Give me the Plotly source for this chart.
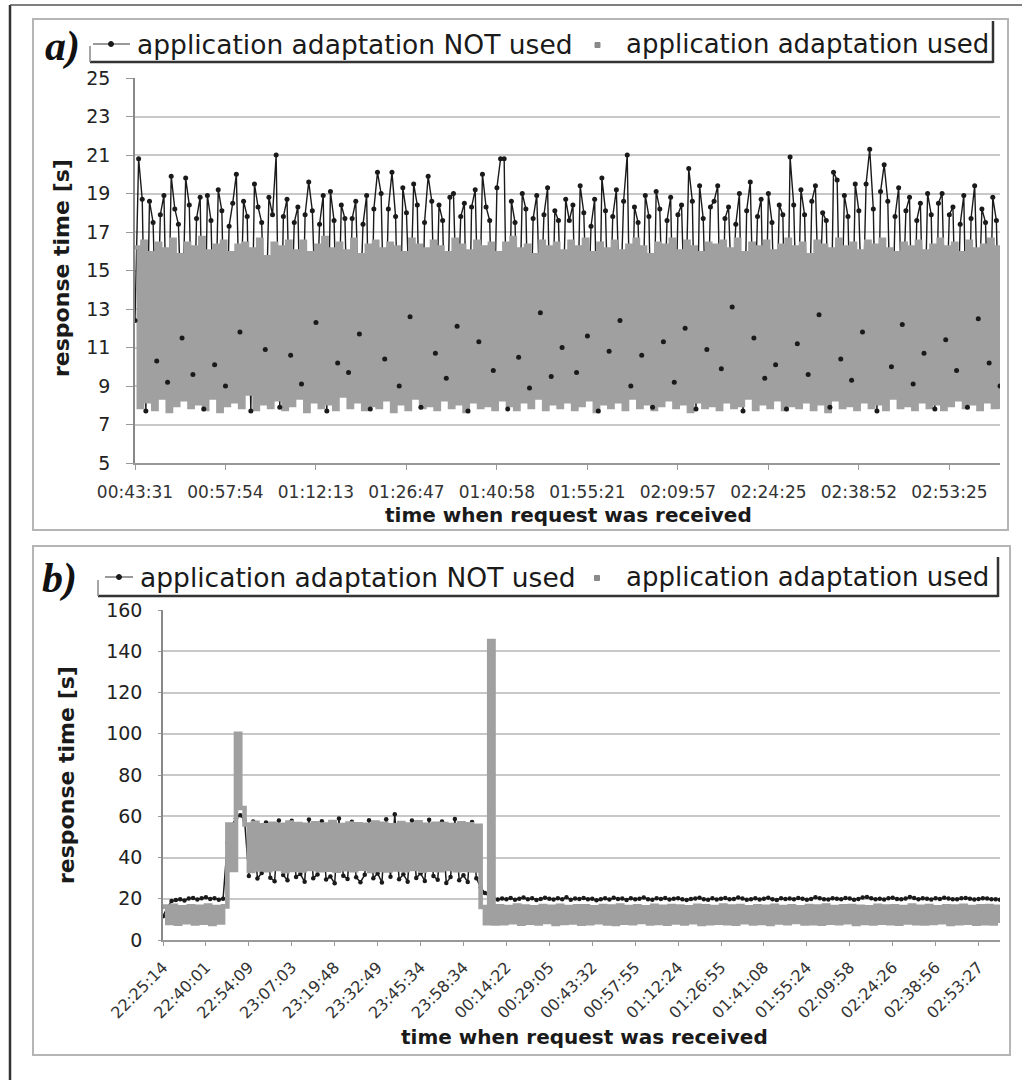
import plotly.graph_objects as go

# ---------------- data ----------------
labels_a = ["00:43:31", "00:57:54", "01:12:13", "01:26:47", "01:40:58",
            "01:55:21", "02:09:57", "02:24:25", "02:38:52", "02:53:25"]

labels_b = ["22:25:14", "22:40:01", "22:54:09", "23:07:03", "23:19:48",
            "23:32:49", "23:45:34", "23:58:34", "00:14:22", "00:29:05",
            "00:43:32", "00:57:55", "01:12:24", "01:26:55", "01:41:08",
            "01:55:24", "02:09:58", "02:24:26", "02:38:56", "02:53:27"]

# panel a: response time [s], application adaptation used (grey)
used_a = [
    16.2, 7.9, 16.5, 8.2, 15.9, 7.8, 16.4, 8.4, 16.1, 7.7, 16.6, 8.0, 15.8, 8.3, 16.4, 7.9, 16.2, 8.1, 16.7, 7.8,
    16.0, 8.4, 16.3, 7.7, 16.5, 8.0, 15.9, 8.2, 16.3, 7.9, 16.4, 8.6, 16.1, 7.8, 16.6, 8.1, 15.7, 7.9, 16.4, 8.3,
    16.2, 7.8, 16.5, 8.0, 16.0, 8.4, 16.5, 7.7, 15.9, 8.2, 16.3, 7.9, 16.7, 8.1, 16.1, 7.8, 16.4, 8.5, 16.0, 7.9,
    16.6, 8.2, 15.8, 7.8, 16.3, 8.0, 16.5, 7.9, 16.1, 8.3, 16.4, 7.7, 16.2, 8.1, 15.9, 7.8, 16.6, 8.4, 16.3, 7.9,
    16.1, 8.0, 16.5, 7.8, 16.2, 8.3, 15.9, 7.9, 16.6, 8.1, 16.3, 7.7, 16.0, 8.2, 16.5, 7.9, 16.2, 8.0, 16.4, 7.8,
    15.9, 8.3, 16.4, 8.0, 16.7, 7.8, 16.1, 8.2, 16.3, 7.9, 15.8, 8.4, 16.5, 7.8, 16.2, 8.1, 16.4, 7.9, 16.0, 8.2,
    16.5, 7.8, 16.2, 8.0, 16.6, 8.3, 15.9, 7.7, 16.4, 8.1, 16.1, 7.9, 16.5, 8.2, 16.0, 7.8, 16.3, 8.4, 16.6, 7.9,
    16.2, 8.1, 15.8, 7.8, 16.4, 8.0, 16.3, 8.3, 16.6, 7.9, 16.0, 8.1, 16.5, 7.7, 16.2, 8.2, 15.9, 7.9, 16.4, 8.0,
    16.3, 7.8, 16.5, 8.2, 16.1, 7.9, 16.6, 8.0, 15.9, 8.4, 16.4, 7.8, 16.2, 8.1, 16.5, 7.9, 16.0, 8.3, 16.3, 7.8,
    16.6, 8.0, 16.2, 7.9, 16.4, 8.2, 15.8, 7.8, 16.5, 8.1, 16.3, 7.7, 16.1, 8.3, 16.6, 7.9, 16.2, 8.0, 16.4, 7.8,
    16.0, 8.2, 16.5, 7.9, 16.3, 8.1, 16.6, 7.8, 16.1, 8.4, 15.9, 7.9, 16.4, 8.0, 16.2, 7.8, 16.5, 8.2, 16.0, 7.9,
    16.3, 8.1, 16.6, 7.8, 16.2, 8.0, 16.4, 8.3, 15.9, 7.9, 16.5, 8.1, 16.1, 7.8, 16.3, 8.2, 16.6, 7.9, 16.2, 7.8,
]

# panel a: application adaptation NOT used (black)
not_used_a = [
    12.4, 20.8, 18.7, 7.7, 18.6, 17.5, 10.3, 17.9, 18.9, 9.2, 19.9, 18.2, 17.4, 11.5, 19.8, 18.4, 9.6, 17.7, 18.8, 7.8,
    18.9, 17.6, 10.1, 19.2, 18.1, 9.0, 17.3, 18.5, 20.0, 11.8, 18.6, 17.8, 7.7, 19.5, 18.3, 17.5, 10.9, 18.8, 17.9, 21.0,
    7.9, 17.8, 18.7, 10.6, 17.5, 18.3, 9.1, 17.9, 19.6, 18.1, 12.3, 17.4, 18.9, 7.7, 19.1, 17.6, 10.2, 18.4, 17.7, 9.7,
    17.7, 18.6, 11.7, 17.4, 18.9, 7.8, 18.2, 20.1, 19.0, 10.4, 18.2, 20.1, 17.8, 9.0, 19.3, 18.0, 12.6, 19.5, 18.4, 7.9,
    17.5, 19.9, 18.6, 10.7, 18.4, 17.6, 9.4, 18.8, 19.0, 12.1, 17.8, 18.5, 7.7, 18.3, 19.2, 11.3, 20.0, 18.3, 17.6, 9.8,
    19.3, 20.8, 20.8, 7.8, 18.6, 17.5, 10.5, 19.0, 18.2, 8.9, 17.7, 18.9, 12.8, 17.9, 19.3, 9.5, 18.1, 17.6, 11.0, 18.7,
    17.6, 18.4, 9.7, 19.4, 18.0, 11.6, 17.3, 18.7, 7.7, 19.8, 18.1, 10.8, 17.8, 19.2, 12.4, 18.6, 21.0, 9.0, 18.3, 17.5,
    10.6, 18.9, 17.8, 7.9, 19.1, 18.2, 11.3, 17.6, 18.8, 9.2, 17.9, 18.4, 12.0, 20.3, 18.6, 7.8, 19.4, 17.7, 10.9, 18.3,
    18.6, 19.4, 9.9, 17.7, 18.3, 13.1, 17.4, 19.0, 7.7, 18.1, 19.6, 11.5, 17.8, 18.7, 9.4, 19.0, 17.5, 10.1, 18.4, 17.9,
    7.8, 20.9, 18.4, 11.2, 19.2, 17.9, 9.6, 18.6, 19.4, 12.7, 18.0, 17.6, 7.9, 20.1, 19.7, 10.4, 18.9, 17.8, 9.3, 19.5,
    18.1, 11.8, 19.5, 21.3, 18.2, 7.7, 19.1, 20.5, 18.6, 10.0, 17.8, 19.3, 12.2, 18.1, 18.8, 9.1, 17.6, 18.5, 10.7, 19.0,
    17.9, 7.8, 18.5, 19.0, 11.4, 17.9, 18.3, 9.8, 17.4, 18.9, 7.9, 17.7, 19.4, 12.5, 18.2, 17.5, 10.2, 18.8, 17.6, 9.0,
]

# panel b: application adaptation used (grey)
used_b = [
    16.2, 8.3, 16.6, 7.9, 15.9, 8.6, 16.4, 8.0, 16.1, 8.4, 16.7, 7.8, 16.0, 8.5, 16.3,
    56.0, 34.0, 100.0, 64.0, 56.0, 33.5, 56.8, 34.2, 55.6, 33.8, 56.4, 34.5, 55.9, 33.4, 57.0,
    34.0, 56.2, 33.7, 55.8, 34.4, 56.6, 33.9, 56.0, 34.1, 57.2, 33.6, 55.7, 34.3, 56.5, 33.8,
    56.1, 34.6, 55.9, 33.5, 56.9, 34.0, 56.3, 33.7, 55.6, 34.2, 56.7, 33.9, 56.0, 34.4, 57.1,
    33.6, 55.8, 34.1, 56.4, 33.8, 56.2, 34.5, 55.7, 33.9, 56.6, 34.0, 56.1, 33.7, 55.4,
    16.0, 8.2, 145.0, 8.0,
    16.4, 8.1, 16.0, 8.6, 16.7, 7.9, 16.2, 8.4, 15.9, 8.0, 16.5, 8.7, 16.1, 7.8, 16.6, 8.3, 16.0, 8.5, 16.4, 7.9,
    16.3, 8.2, 15.8, 8.6, 16.5, 8.0, 16.2, 7.8, 16.7, 8.4, 16.0, 8.1, 16.4, 8.7, 15.9, 8.0, 16.6, 8.3, 16.1, 7.9,
    16.5, 8.5, 16.2, 8.0, 15.9, 8.6, 16.6, 7.8, 16.3, 8.2, 16.0, 8.4, 16.7, 8.1, 16.2, 7.9, 16.5, 8.6, 15.8, 8.0,
    16.4, 8.3, 16.1, 7.8, 16.6, 8.5, 16.0, 8.1, 16.3, 8.7, 15.9, 8.0, 16.5, 8.2, 16.2, 7.9, 16.7, 8.4, 16.0, 8.1,
    16.3, 8.6, 16.5, 7.8, 16.1, 8.3, 15.8, 8.0, 16.6, 8.4, 16.2, 8.1, 16.4, 7.9, 16.0, 8.5, 16.7, 8.2, 16.1, 8.0,
    16.5, 8.3, 15.9, 8.6, 16.4, 7.8, 16.2, 8.1, 16.6, 8.4, 16.0, 7.9, 16.3, 8.2, 16.5, 8.0, 16.1, 8.3,
]

# panel b: application adaptation NOT used (black)
not_used_b = [
    11.5, 15.8, 18.9, 19.4, 19.7, 19.2, 20.1, 20.4, 19.6, 20.2, 20.7, 19.9, 20.3, 19.5, 20.0,
    47.0, 55.5, 59.0, 60.5, 58.2, 31.0, 57.5, 29.8, 32.5, 57.0, 30.2, 28.5, 58.0, 31.5, 29.0,
    57.8, 30.6, 32.0, 28.2, 58.4, 30.0, 31.8, 57.6, 29.3, 30.8, 27.5, 58.9, 31.2, 29.6, 57.3,
    30.4, 28.0, 31.6, 58.1, 29.9, 32.3, 27.9, 58.6, 30.7, 61.0, 29.4, 31.9, 28.3, 57.9, 30.1,
    32.4, 28.6, 58.3, 31.0, 29.2, 57.5, 27.6, 30.5, 58.7, 29.0, 31.4, 28.1, 57.2, 30.0,
    25.5, 22.8, 21.0, 20.2,
    19.6, 20.1, 19.8, 20.4, 19.5, 20.0, 20.6, 19.7, 20.2, 19.4, 19.9, 20.5, 20.0, 19.6, 20.3, 19.8, 20.7, 19.5, 20.1, 19.9,
    20.4, 19.7, 20.0, 19.3, 19.8, 20.2, 19.6, 20.5, 19.9, 20.1, 19.4, 20.3, 19.7, 20.0, 20.6, 19.8, 19.5, 20.2, 19.9, 20.4,
    19.6, 20.0, 20.3, 19.7, 19.4, 19.9, 20.1, 20.5, 19.8, 19.5, 20.2, 19.6, 20.0, 20.4, 19.7, 19.9, 20.6, 20.1, 19.5, 19.8,
    20.3, 19.6, 20.0, 20.5, 19.8, 19.4, 20.2, 19.9, 20.1, 19.7, 20.4, 20.0, 19.5, 19.9, 20.7, 20.2, 19.8, 19.6, 20.3, 20.0,
    19.7, 20.4, 20.1, 19.5, 19.9, 20.6, 20.8, 20.2, 19.8, 20.0, 19.6, 20.3, 20.5, 19.9, 19.7, 20.1, 20.9, 20.4, 19.8, 20.2,
    20.0, 19.6, 20.3, 19.9, 20.5, 20.1, 19.7, 19.8, 20.2, 20.4, 20.0, 19.6, 19.9, 20.3, 20.1, 19.7, 19.8, 19.5,
]

series_names = ["application adaptation NOT used", "application adaptation used"]

# ---------------- styling ----------------
W, H = 1028, 1080
GREY = "#a0a0a0"
BLACK = "#1a1a1a"
FONT = "DejaVu Sans"


def px(x):
    return x / W


def py(y):
    return 1 - y / H


xa = list(range(len(used_a)))
xb = list(range(len(used_b)))

fig = go.Figure()

# panel a
fig.add_trace(go.Scatter(x=xa, y=not_used_a, mode="lines", name=series_names[0],
                         line=dict(color=BLACK, width=1.4), xaxis="x", yaxis="y",
                         showlegend=False))
fig.add_trace(go.Scatter(x=xa, y=used_a, mode="lines", name=series_names[1],
                         line=dict(color=GREY, width=4.2, shape="hv"),
                         xaxis="x", yaxis="y", showlegend=False))
fig.add_trace(go.Scatter(x=xa, y=not_used_a, mode="markers", name=series_names[0],
                         marker=dict(symbol="circle", size=5, color=BLACK),
                         xaxis="x", yaxis="y", showlegend=False))

# panel b
fig.add_trace(go.Scatter(x=xb, y=not_used_b, mode="lines+markers", name=series_names[0],
                         line=dict(color=BLACK, width=1.5),
                         marker=dict(symbol="circle", size=4.5, color=BLACK),
                         xaxis="x2", yaxis="y2", showlegend=False))
fig.add_trace(go.Scatter(x=xb, y=used_b, mode="lines", name=series_names[1],
                         line=dict(color=GREY, width=4.6, shape="hv"),
                         xaxis="x2", yaxis="y2", showlegend=False))

fig.update_layout(
    width=W, height=H,
    margin=dict(l=0, r=0, t=0, b=0, pad=0, autoexpand=False),
    paper_bgcolor="white", plot_bgcolor="white",
    showlegend=False,
    xaxis=dict(domain=[px(135), px(1000)], range=[0, len(used_a) - 1],
               tickmode="array", tickvals=[i * 25 for i in range(len(labels_a))],
               ticktext=labels_a, ticks="outside", ticklen=5, tickcolor="#999",
               showline=True, linecolor="#999", linewidth=1.5, showgrid=False,
               zeroline=False, tickfont=dict(family=FONT, size=17, color="#333"),
               ticklabelstandoff=8, anchor="y", automargin=False),
    yaxis=dict(domain=[py(463), py(78)], range=[5, 25], dtick=2, tick0=5,
               ticks="outside", ticklen=7, tickcolor="#999",
               showline=True, linecolor="#888", linewidth=1.5,
               showgrid=True, gridcolor="#c8c8c8", gridwidth=1.5, zeroline=False,
               tickfont=dict(family=FONT, size=19, color="#222"),
               ticklabelstandoff=12, anchor="x", automargin=False),
    xaxis2=dict(domain=[px(163), px(1000)], range=[0, len(used_b) - 1],
                tickmode="array", tickvals=[i * 10 for i in range(len(labels_b))],
                ticktext=labels_b, tickangle=-45, ticks="outside", ticklen=4,
                tickcolor="#999", showline=True, linecolor="#999", linewidth=1.5,
                showgrid=False, zeroline=False,
                tickfont=dict(family=FONT, size=16, color="#333"),
                ticklabelstandoff=6, anchor="y2", automargin=False),
    yaxis2=dict(domain=[py(940), py(610)], range=[0, 160], dtick=20,
                ticks="outside", ticklen=3, tickcolor="#999",
                showline=True, linecolor="#888", linewidth=1.5,
                showgrid=True, gridcolor="#c8c8c8", gridwidth=1.5, zeroline=False,
                tickfont=dict(family=FONT, size=19, color="#222"),
                ticklabelstandoff=12, anchor="x2", automargin=False),
)

shapes = []


def line(x0, y0, x1, y1, color, width):
    shapes.append(dict(type="line", xref="paper", yref="paper",
                       x0=px(x0), y0=py(y0), x1=px(x1), y1=py(y1),
                       line=dict(color=color, width=width)))


def rect(x0, y0, x1, y1, color, width, fill=None):
    shapes.append(dict(type="rect", xref="paper", yref="paper",
                       x0=px(x0), y0=py(y0), x1=px(x1), y1=py(y1),
                       line=dict(color=color, width=width),
                       fillcolor=fill if fill else "rgba(0,0,0,0)"))


# outer page frame
line(10, 5, 10, 1080, "#333", 2.5)
line(10, 5, 1022, 5, "#555", 1.5)
# panel frames
rect(33, 19, 1008, 530, "#b5b5b5", 2)
rect(33, 546, 1010, 1055, "#b5b5b5", 2)
# legend boxes (shadowed)
line(90, 62, 993, 62, "#333", 2.5)
line(993, 21, 993, 63, "#333", 2.5)
line(90, 46, 90, 62, "#888", 1.5)
line(98, 596, 998, 596, "#333", 2.5)
line(998, 557, 998, 597, "#333", 2.5)
line(98, 580, 98, 596, "#888", 1.5)
# legend symbols
line(93, 44, 130, 44, "#777", 1.5)
line(105, 577, 133, 577, "#777", 1.5)
shapes.append(dict(type="circle", xref="paper", yref="paper",
                   x0=px(108.5), y0=py(41.5), x1=px(113.5), y1=py(46.5),
                   line=dict(color=BLACK, width=1), fillcolor=BLACK))
shapes.append(dict(type="circle", xref="paper", yref="paper",
                   x0=px(116.5), y0=py(574.5), x1=px(121.5), y1=py(579.5),
                   line=dict(color=BLACK, width=1), fillcolor=BLACK))
rect(595, 42.5, 600, 47.5, "#8a8a8a", 1, "#8a8a8a")
rect(594.5, 575.5, 599.5, 580.5, "#8a8a8a", 1, "#8a8a8a")

annotations = []


def text(x, y, s, size, bold=False, family=FONT, xanchor="left", angle=0, color="#1a1a1a"):
    annotations.append(dict(xref="paper", yref="paper", x=px(x), y=py(y),
                            text=f"<b>{s}</b>" if bold else s, showarrow=False,
                            xanchor=xanchor, yanchor="middle", textangle=angle,
                            font=dict(family=family, size=size, color=color)))


# panel labels
text(62, 47, "<i>a)</i>", 42, bold=True, family="Liberation Serif", xanchor="center", color="#111")
text(59, 578, "<i>b)</i>", 42, bold=True, family="Liberation Serif", xanchor="center", color="#111")
# legends
text(135, 44, series_names[0], 26.5)
text(624, 44, series_names[1], 26)
text(138, 577, series_names[0], 26.5)
text(624, 577, series_names[1], 26)
# axis titles
text(62, 268, "response time [s]", 22, bold=True, xanchor="center", angle=-90)
text(66, 775, "response time [s]", 22, bold=True, xanchor="center", angle=-90)
text(568, 515, "time when request was received", 20, bold=True, xanchor="center")
text(584, 1037, "time when request was received", 20, bold=True, xanchor="center")

fig.update_layout(shapes=shapes, annotations=annotations)

fig.write_html("out.html")
